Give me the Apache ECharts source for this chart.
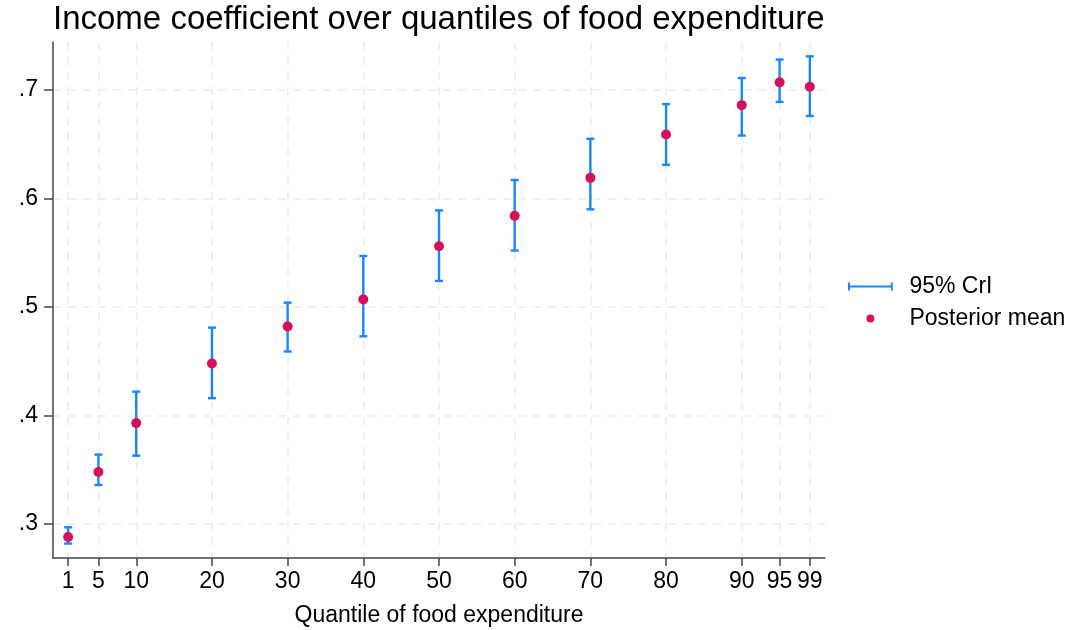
<!DOCTYPE html>
<html>
<head>
<meta charset="utf-8">
<script src="https://cdn.jsdelivr.net/npm/echarts@6/dist/echarts.min.js"></script>
<style>html,body{margin:0;padding:0;background:#fff}#c{width:1080px;height:630px}</style>
</head>
<body>
<div id="c"></div>
<script>
const quantiles = [1, 5, 10, 20, 30, 40, 50, 60, 70, 80, 90, 95, 99];
const postMean  = [0.288, 0.348, 0.393, 0.448, 0.482, 0.507, 0.556, 0.584, 0.619, 0.659, 0.686, 0.707, 0.703];
const lower     = [0.282, 0.336, 0.363, 0.416, 0.459, 0.473, 0.524, 0.552, 0.590, 0.631, 0.658, 0.689, 0.676];
const upper     = [0.297, 0.364, 0.422, 0.481, 0.504, 0.547, 0.589, 0.617, 0.655, 0.687, 0.711, 0.728, 0.731];
const yTicks    = [0.3, 0.4, 0.5, 0.6, 0.7];

const blue = 'rgb(26,133,255)';
const red = 'rgb(212,17,89)';
const font = 'Liberation Sans, Arial, sans-serif';
const fs = 23;

const chart = echarts.init(document.getElementById('c'), null, {renderer: 'canvas'});
const grid = {left: 53, right: 255, top: 42, bottom: 72, containLabel: false, outerBoundsMode: 'none'};

chart.setOption({
  animation: false,
  backgroundColor: '#fff',
  title: {
    text: 'Income coefficient over quantiles of food expenditure',
    left: 48, top: -2,
    textStyle: {fontFamily: font, fontSize: 33, fontWeight: 'normal', color: '#000'}
  },
  legend: {
    orient: 'vertical',
    left: 843, top: 270,
    itemWidth: 56, itemHeight: 8, itemGap: 9,
    textStyle: {fontFamily: font, fontSize: fs, color: '#000', padding: [0, 0, 0, 6]},
    data: [
      {name: '95% CrI', icon: 'path://M0,0h2.5v10h-2.5z M0,3.8h56v2.4h-56z M53.5,0h2.5v10h-2.5z', itemStyle: {color: blue}},
      {name: 'Posterior mean', icon: 'circle', itemStyle: {color: red}}
    ]
  },
  grid: grid,
  xAxis: {
    type: 'value', min: -1, max: 101,
    name: 'Quantile of food expenditure',
    nameLocation: 'middle', nameGap: 46, nameMoveOverlap: false,
    nameTextStyle: {fontFamily: font, fontSize: fs, color: '#000'},
    axisLine: {show: true, onZero: false, lineStyle: {color: '#444', width: 1.5}},
    axisTick: {show: true, length: 8, customValues: quantiles, lineStyle: {color: '#444', width: 1.5}},
    axisLabel: {customValues: quantiles, fontFamily: font, fontSize: fs, color: '#000', margin: 12, showMinLabel: true, showMaxLabel: true, hideOverlap: false},
    splitLine: {show: true, lineStyle: {color: '#ebebeb', width: 1.5, type: [8, 7]}}
  },
  yAxis: {
    type: 'value', min: 0.2687, max: 0.7442,
    axisLine: {show: true, onZero: false, lineStyle: {color: '#444', width: 1.5}},
    axisTick: {show: true, length: 9, customValues: yTicks, lineStyle: {color: '#444', width: 1.5}},
    axisLabel: {customValues: yTicks, fontFamily: font, fontSize: fs, color: '#000', margin: 15,
      formatter: v => v.toFixed(1).replace(/^0/, '')},
    splitLine: {show: true, lineStyle: {color: '#ebebeb', width: 1.5, type: [8, 7]}}
  },
  series: [
    {
      name: '95% CrI',
      type: 'custom',
      itemStyle: {color: blue},
      data: quantiles.map((q, i) => [q, lower[i], upper[i]]),
      encode: {x: 0, y: [1, 2]},
      renderItem: function (params, api) {
        const x = api.value(0);
        const lo = api.coord([x, api.value(1)]);
        const hi = api.coord([x, api.value(2)]);
        const hw = 4;
        const st = {stroke: blue, lineWidth: 2.4};
        return {
          type: 'group',
          children: [
            {type: 'line', shape: {x1: lo[0], y1: lo[1], x2: hi[0], y2: hi[1]}, style: st},
            {type: 'line', shape: {x1: lo[0] - hw, y1: lo[1], x2: lo[0] + hw, y2: lo[1]}, style: st},
            {type: 'line', shape: {x1: hi[0] - hw, y1: hi[1], x2: hi[0] + hw, y2: hi[1]}, style: st}
          ]
        };
      },
      z: 2
    },
    {
      name: 'Posterior mean',
      type: 'scatter',
      symbol: 'circle',
      symbolSize: 10,
      itemStyle: {color: red, opacity: 1},
      data: quantiles.map((q, i) => [q, postMean[i]]),
      z: 3
    }
  ]
});
</script>
</body>
</html>
